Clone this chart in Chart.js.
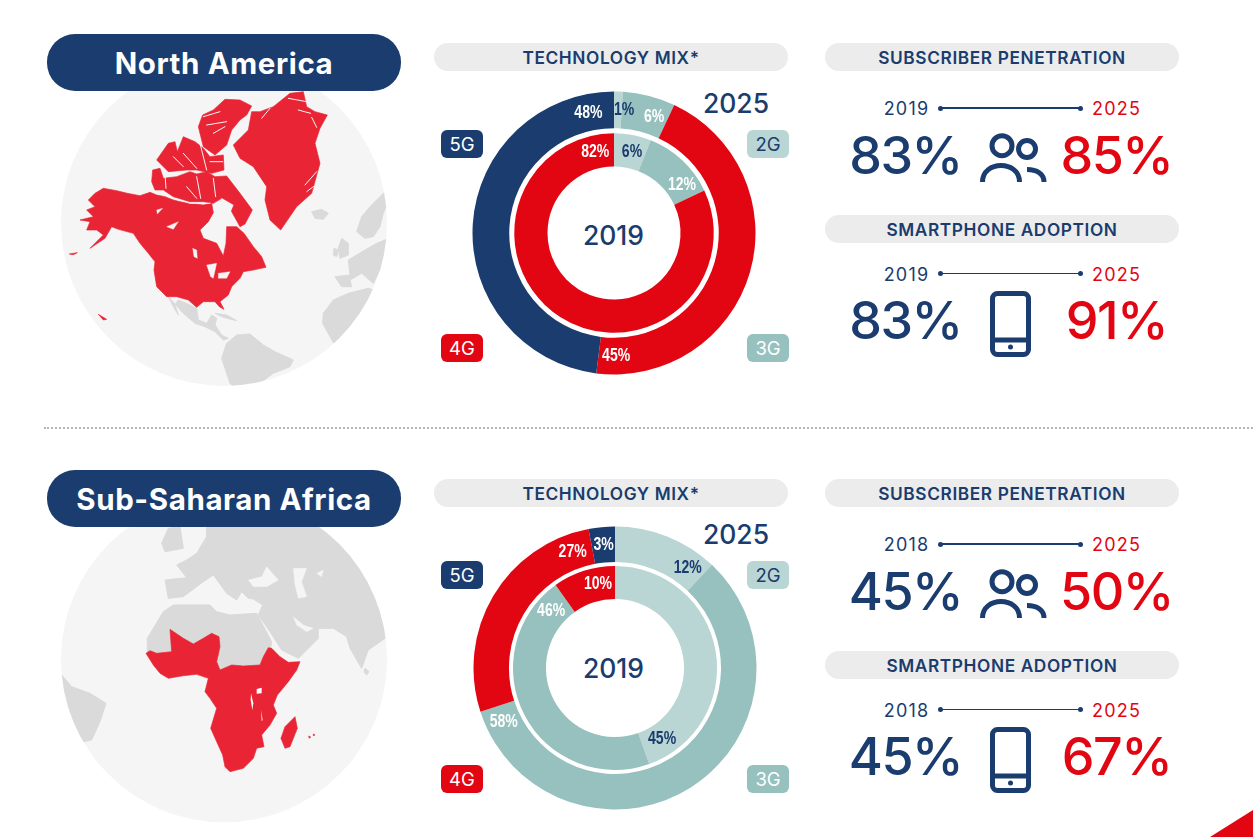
<!DOCTYPE html>
<html>
<head>
<meta charset="utf-8">
<title>Technology mix</title>
<script src="https://cdn.jsdelivr.net/npm/chart.js@4"></script>
<style>
  html, body { margin: 0; padding: 0; background: #fff; }
  body { width: 1253px; height: 837px; position: relative; overflow: hidden; font-family: Inter, sans-serif; color: #1a3c6e; }
  .center { position: absolute; transform: translate(-50%, -50%); white-space: nowrap; }
  .region { position: absolute; left: 47px; width: 354px; height: 57px; border-radius: 28px; background: #1a3c6e; color: #fff;
            font-weight: 700; font-size: 29.5px; letter-spacing: .6px; text-align: center; line-height: 59px; }
  .pill { position: absolute; width: 354px; height: 28px; border-radius: 14px; background: #ececec;
          font-weight: 600; font-size: 17.3px; letter-spacing: .6px; text-align: center; line-height: 30px; }
  .chip { position: absolute; width: 42px; height: 28px; border-radius: 6px; text-align: center; line-height: 29px; font-size: 18.5px; }
  .year { font-size: 18px; letter-spacing: 1.2px; }
  .mid { font-size: 26.5px; font-weight: 500; }
  .big { font-size: 52px; font-weight: 550; letter-spacing: -1.5px; }
  .red { color: #e20613; }
  .line { position: absolute; width: 140px; height: 1.5px; background: #1a3c6e; }
  .dot { position: absolute; width: 5px; height: 5px; border-radius: 50%; background: #1a3c6e; }
  .divider { position: absolute; left: 44px; right: 0; top: 427px; border-top: 2px dotted #b5b5b5; }
  svg { position: absolute; left: 0; top: 0; }
  canvas { position: absolute; }
  .land { fill: #dadada; stroke: #dadada; stroke-width: 3; stroke-linejoin: round; }
  .own { fill: #e92535; stroke: #e92535; stroke-width: 2; stroke-linejoin: round; }
  .sea { fill: #f5f5f6; stroke: #f5f5f6; stroke-width: 1; stroke-linejoin: round; }
  .slit { fill: none; stroke: #f5f5f6; stroke-width: 3; stroke-linecap: round; stroke-linejoin: round; }
</style>
</head>
<body>

<svg width="1253" height="837">
  <defs>
    <clipPath id="globeA"><circle cx="552" cy="579" r="489"/></clipPath>
    <clipPath id="globeB"><circle cx="552" cy="583" r="489"/></clipPath>
  </defs>

  <!-- north america globe, coordinates are 3x -->
  <g transform="translate(40,30) scale(.33333)">
    <circle cx="552" cy="579" r="489" fill="#f5f5f6"/>
    <g clip-path="url(#globeA)" class="land">
      <path d="M385,800 L400,830 L415,855 L405,825 L415,810 L450,825 L470,835 L475,870 L500,880 L515,855 L530,865 L525,885 L545,915 L565,925 L550,930 L525,905 L495,890 L465,880 L430,850 Z"/>
      <path d="M525,850 L560,855 L590,872 L550,862 Z"/>
      <path d="M545,985 L560,940 L590,915 L630,912 L670,945 L705,965 L760,990 L750,1010 L700,1030 L660,1060 L610,1100 L570,1060 Z"/>
      <path d="M848,880 L850,850 L880,810 L925,790 L985,775 L1060,800 L1040,950 L880,938 Z"/>
      <path d="M885,740 L905,770 L935,770 L930,750 L965,730 L1000,760 L1030,700 L1060,720 L1060,620 L1010,640 L975,660 L925,690 L930,735 Z"/>
      <path d="M950,605 L965,560 L990,530 L1030,490 L1050,500 L1030,550 L1020,590 L1000,620 L975,625 Z"/>
      <path d="M905,625 L925,640 L925,675 L900,685 L895,655 Z"/>
      <path d="M882,655 L895,660 L890,680 L880,675 Z"/>
      <path d="M815,545 L845,538 L865,550 L850,568 L825,565 Z"/>
    </g>
    <g class="own">
      <path d="M145,510 L165,490 L190,475 L230,482 L262,490 L300,497 L330,487 L350,495 L375,500 L400,510 L420,515 L450,520 L490,525 L515,520 L520,548 L505,575 L480,600 L490,625 L530,640 L550,678 L558,640 L560,590 L590,590 L612,610 L640,650 L665,680 L678,712 L640,720 L610,725 L600,745 L575,770 L565,795 L540,815 L552,838 L538,830 L525,815 L490,815 L470,832 L445,810 L410,800 L380,800 L350,770 L342,720 L345,695 L325,670 L300,640 L280,610 L235,598 L215,590 L195,625 L150,655 L190,615 L170,600 L140,600 L150,575 L120,570 L160,560 L140,540 L165,530 Z"/>
      <path d="M338,420 L360,415 L370,445 L410,440 L450,425 L470,432 L500,425 L525,440 L560,438 L600,490 L637,540 L615,582 L600,590 L575,545 L545,505 L520,520 L490,515 L450,515 L400,500 L370,480 L345,480 L335,455 Z"/>
      <path d="M350,390 L385,340 L405,335 L412,365 L430,320 L465,335 L490,355 L510,380 L550,375 L552,420 L515,430 L470,420 L440,420 L385,425 L365,405 Z"/>
      <path d="M488,255 L520,240 L555,208 L600,210 L635,228 L620,255 L600,270 L575,300 L560,345 L525,375 L490,350 L475,290 Z"/>
      <path d="M635,245 L660,245 L700,230 L750,190 L790,185 L800,230 L825,245 L862,255 L840,295 L825,340 L840,400 L815,490 L770,530 L722,600 L690,570 L675,510 L680,470 L640,410 L600,385 L580,345 L625,300 Z"/>
      <path d="M88,672 L112,668 L100,674 Z"/>
      <path d="M175,853 L200,868 L190,870 Z"/>
    </g>
    <g class="sea">
      <path d="M500,705 L530,700 L520,745 L512,740 Z"/>
      <path d="M535,730 L570,725 L560,745 L535,745 Z"/>
      <path d="M545,505 L580,525 L560,575 L530,565 Z"/>
      <path d="M350,540 L368,535 L352,552 Z"/>
      <path d="M380,590 L415,575 L400,598 Z"/>
      <path d="M458,655 L470,660 L472,685 L462,680 Z"/>
    </g>
    <path class="slit" d="M375,432 L378,475 M470,440 L482,505 M520,445 L527,500 M440,470 L470,505 M385,500 L450,520 L510,520 M430,370 L470,415 M480,340 L500,420 M400,380 L430,410 M510,395 L548,395 M500,285 L560,275 M520,310 L555,290 M490,260 L540,245 M745,205 L800,215 M775,240 L812,250 M815,262 L830,292 M690,235 L665,265 M795,465 L830,425 M800,485 L820,470"/>
  </g>

  <!-- sub-saharan africa globe -->
  <g transform="translate(40,465) scale(.33333)">
    <circle cx="552" cy="583" r="489" fill="#f5f5f6"/>
    <g clip-path="url(#globeB)" class="land">
      <path d="M375,345 L440,338 L410,300 L440,285 L470,265 L500,215 L500,150 L800,100 L1100,300 L1100,520 L1035,520 L985,555 L965,610 L930,550 L920,515 L880,490 L835,490 L835,520 L775,580 L725,555 L690,500 L655,450 L668,420 L640,402 L625,400 L605,380 L590,405 L560,385 L520,330 L490,350 L430,395 L385,400 Z"/>
      <path d="M322,560 L322,520 L370,440 L400,420 L510,420 L530,440 L570,450 L650,445 L695,530 L690,560 L665,610 L540,620 L500,560 L400,570 Z"/>
      <path d="M385,190 L420,185 L430,250 L375,260 L365,235 Z"/>
      <path d="M65,630 L95,665 L150,685 L198,715 L180,770 L155,825 L130,830 L90,760 L60,700 Z"/>
      <path d="M975,610 L987,620 L980,630 L972,622 Z"/>
    </g>
    <g class="sea">
      <path d="M625,345 L665,335 L680,305 L715,345 L680,365 L640,365 Z"/>
      <path d="M760,310 L800,310 L785,350 L800,395 L775,400 L765,360 Z"/>
      <path d="M760,455 L790,480 L820,490 L800,500 L770,480 Z"/>
      <path d="M830,325 L850,315 L845,335 Z"/>
    </g>
    <g class="own">
      <path d="M318,565 L330,557 L350,565 L395,560 L390,493 L430,520 L460,537 L490,520 L515,505 L537,515 L540,545 L530,590 L540,615 L575,600 L610,603 L660,600 L670,575 L685,548 L695,550 L720,575 L745,592 L780,590 L770,615 L745,650 L712,690 L700,720 L710,745 L690,780 L665,810 L672,845 L650,850 L640,880 L610,910 L570,920 L555,905 L548,870 L530,830 L512,790 L530,730 L510,700 L495,680 L505,640 L470,628 L430,632 L385,640 L360,625 L340,600 Z"/>
      <path d="M765,755 L772,790 L750,845 L735,850 L723,820 L735,785 Z"/>
      <path d="M806,813 L812,816 L808,820 Z"/>
      <path d="M820,807 L825,810 L820,812 Z"/>
    </g>
    <path d="M650,672 L665,668 L665,685 L650,686 Z" fill="#fff"/>
    <path d="M633,685 L640,715 L637,735 L632,705 Z" fill="#fff"/>
    <path d="M663,735 L668,765 L665,768 Z" fill="#fff"/>
  </g>

  <!-- corner mark -->
  <path d="M1210,837 L1253,810 L1253,837 Z" fill="#e20613"/>
</svg>

<div class="divider"></div>
<div id="page"></div>

<script>
// technology mix, clockwise from the top
const techLabels = ['2G', '3G', '4G', '5G'];
const techColors = ['#b9d5d4', '#96c1be', '#e20613', '#1a3c6e'];

const naMix2025 = [1, 6, 45, 48];
const naMix2019 = [6, 12, 82, 0];
const ssaMix2025 = [12, 58, 27, 3];
const ssaMix2019 = [45, 46, 10, 0];

// big numbers on the right
const regionNames = ['North America', 'Sub-Saharan Africa'];
const startYears = ['2019', '2018'];
const endYear = '2025';
const naPenetration = [83, 85];
const naSmartphone = [83, 91];
const ssaPenetration = [45, 50];
const ssaSmartphone = [45, 67];

const page = document.getElementById('page');

function add(cls, text, style) {
  const el = document.createElement('div');
  el.className = cls;
  el.textContent = text;
  Object.assign(el.style, style || {});
  page.appendChild(el);
  return el;
}

function addText(cls, text, x, y) {
  return add('center ' + cls, text, { left: x + 'px', top: y + 'px' });
}

function icon(svg) {
  const holder = document.createElement('div');
  holder.innerHTML = svg;
  page.appendChild(holder);
}

function peopleIcon(y) {
  icon(`<svg width="1253" height="837" fill="none" stroke="#1a3c6e" stroke-width="5">
    <circle cx="1002" cy="${y + 12.7}" r="10"/>
    <circle cx="1027" cy="${y + 16}" r="8.5"/>
    <path d="M982.5,${y + 49} C982.5,${y + 27} 1019.5,${y + 27} 1019.5,${y + 49}"/>
    <path d="M1027,${y + 36.5} C1037,${y + 36.5} 1044,${y + 41} 1044,${y + 49}"/>
  </svg>`);
}

function phoneIcon(y) {
  icon(`<svg width="1253" height="837" fill="none" stroke="#1a3c6e" stroke-width="5">
    <rect x="992.5" y="${y + 2.5}" width="36" height="61" rx="5"/>
    <path d="M993,${y + 49} H1028"/>
    <circle cx="1010.5" cy="${y + 56}" r="2.5" fill="#1a3c6e" stroke="none"/>
  </svg>`);
}

// draws each share inside its ring, at the angle given in degrees from the top
const ringLabels = {
  id: 'ringLabels',
  afterDatasetsDraw(chart, args, opts) {
    const ctx = chart.ctx;
    ctx.font = 'bold 18px "Liberation Sans", sans-serif';
    ctx.textAlign = 'center';
    ctx.textBaseline = 'middle';
    opts.rings.forEach(function (ring) {
      const meta = chart.getDatasetMeta(ring.dataset);
      const values = chart.data.datasets[ring.dataset].data;
      values.forEach(function (v, i) {
        if (!v) return;
        const arc = meta.data[i];
        const r = (arc.innerRadius + arc.outerRadius) / 2;
        const a = ring.angles[i] * Math.PI / 180;
        ctx.save();
        ctx.translate(arc.x + r * Math.sin(a), arc.y - r * Math.cos(a));
        ctx.scale(0.78, 1); // the original figures are condensed
        ctx.fillStyle = ring.colors[i];
        ctx.fillText(v + '%', 0, 0);
        ctx.restore();
      });
    });
  }
};

function makeDonut(left, top, mix2025, mix2019, cutout, weights, rings) {
  const canvas = document.createElement('canvas');
  canvas.width = 284;
  canvas.height = 284;
  canvas.style.left = left + 'px';
  canvas.style.top = top + 'px';
  canvas.style.width = '284px';
  canvas.style.height = '284px';
  page.appendChild(canvas);

  new Chart(canvas, {
    type: 'doughnut',
    data: {
      labels: techLabels,
      datasets: [
        { label: endYear, data: mix2025, backgroundColor: techColors, borderWidth: 0, weight: weights[0] },
        // empty ring that leaves the white gap
        { label: 'gap', data: [1], backgroundColor: 'rgba(0,0,0,0)', borderWidth: 0, weight: weights[1] },
        { label: 'start', data: mix2019, backgroundColor: techColors, borderWidth: 0, weight: weights[2] }
      ]
    },
    options: {
      responsive: false,
      animation: false,
      radius: 141.5,
      cutout: cutout,
      layout: { padding: 0 },
      plugins: {
        legend: { display: false },
        tooltip: { enabled: false },
        ringLabels: { rings: rings }
      }
    },
    plugins: [ringLabels]
  });
}

function addRegion(dy, name, startYear, penetration, smartphone, midYearY) {
  const chipShift = dy ? 5 : 0;
  add('region', name, { top: (34 + dy) + 'px' });
  add('pill', 'TECHNOLOGY MIX*', { left: '434px', top: (43 + dy) + 'px' });
  add('pill', 'SUBSCRIBER PENETRATION', { left: '825px', top: (43 + dy) + 'px' });
  add('pill', 'SMARTPHONE ADOPTION', { left: '825px', top: (215 + dy) + 'px' });

  // legend chips
  add('chip', techLabels[3], { left: '441px', top: (130 + dy - chipShift) + 'px', background: techColors[3], color: '#fff' });
  add('chip', techLabels[0], { left: '747px', top: (130 + dy - chipShift) + 'px', background: techColors[0], color: '#1a3c6e' });
  add('chip', techLabels[2], { left: '441px', top: (334 + dy - chipShift) + 'px', background: techColors[2], color: '#fff' });
  add('chip', techLabels[1], { left: '747px', top: (334 + dy - chipShift) + 'px', background: techColors[1], color: '#fff' });

  addText('mid', endYear, 736, 103 + dy - chipShift);
  addText('mid', '2019', 613.5, midYearY);

  // timelines and the numbers under them
  [[108, penetration, 155], [273.5, smartphone, 320]].forEach(function (row) {
    const y = row[0] + dy;
    addText('year', startYear, 906.5, y);
    addText('year red', endYear, 1116.5, y);
    add('line', '', { left: '940px', top: (y - 1) + 'px' });
    add('dot', '', { left: '937.5px', top: (y - 2.5) + 'px' });
    add('dot', '', { left: '1077.5px', top: (y - 2.5) + 'px' });
    addText('big', row[1][0] + '%', 905.5, row[2] + dy);
    addText('big red', row[1][1] + '%', 1116.5, row[2] + dy);
  });
  peopleIcon(133 + dy);
  phoneIcon(291 + dy);
}

addRegion(0, regionNames[0], startYears[0], naPenetration, naSmartphone, 235);
addRegion(436, regionNames[1], startYears[1], ssaPenetration, ssaSmartphone, 668);

const navy = '#1a3c6e';
makeDonut(472, 91, naMix2025, naMix2019, '47%', [36.8, 5, 33.3], [
  { dataset: 0, angles: [4.7, 19, 179, 348], colors: [navy, '#fff', '#fff', '#fff'] },
  { dataset: 2, angles: [12.5, 54.8, 347, 0], colors: [navy, '#fff', '#fff', '#fff'] }
]);
makeDonut(473, 526, ssaMix2025, ssaMix2019, '48.8%', [35.5, 4, 33], [
  { dataset: 0, angles: [36, 244, 340, 354.7], colors: [navy, '#fff', '#fff', '#fff'] },
  { dataset: 2, angles: [146.6, 311.7, 348.5, 0], colors: [navy, '#fff', '#fff', '#fff'] }
]);
</script>
</body>
</html>
